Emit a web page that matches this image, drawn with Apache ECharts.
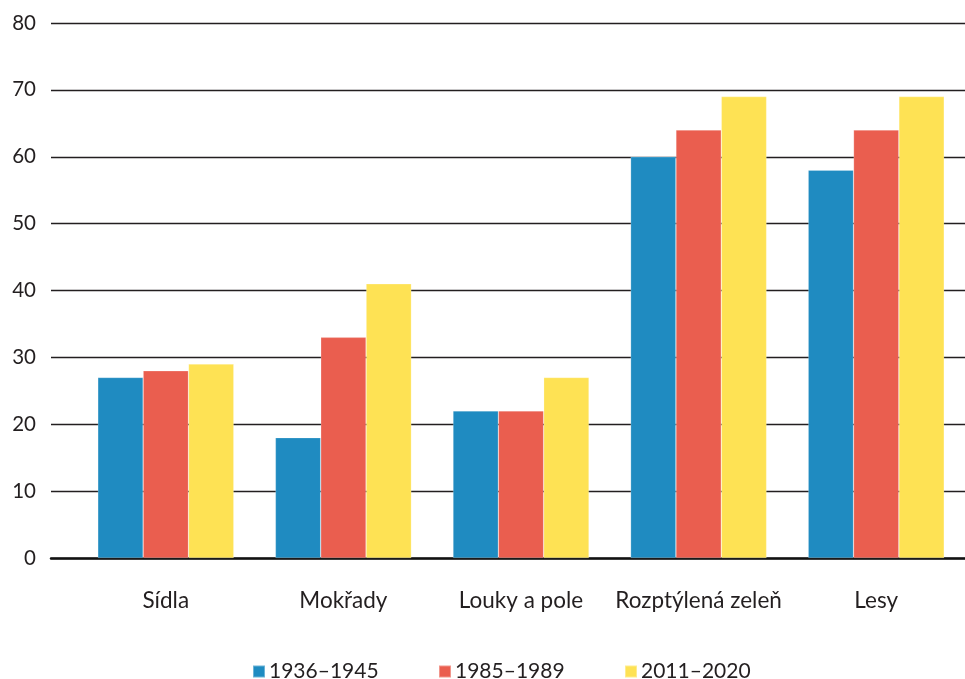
<!DOCTYPE html>
<html>
<head>
<meta charset="utf-8">
<script src="https://cdn.jsdelivr.net/npm/echarts@6/dist/echarts.min.js"></script>
<style>
  html, body { margin: 0; padding: 0; background: #fff; }
  #chart { width: 965px; height: 679px; }
</style>
</head>
<body>
<div id="chart"></div>
<script>
// Land-cover categories along the x axis
const categories = ['Sídla', 'Mokřady', 'Louky a pole', 'Rozptýlená zeleň', 'Lesy'];

// Period names and their values per category
const periods = ['1936–1945', '1985–1989', '2011–2020'];
const values1936 = [27, 18, 22, 60, 58];
const values1985 = [28, 33, 22, 64, 64];
const values2011 = [29, 41, 27, 69, 69];

// Value axis range
const yMin = 0;
const yMax = 80;
const yStep = 10;

const colors = ['#1f8bc1', '#ea5e4f', '#fee254'];
const textColor = '#231f20';
const fontFamily = 'Lato, "Noto Sans", sans-serif';

const seriesValues = [values1936, values1985, values2011];

const chart = echarts.init(document.getElementById('chart'), null, { renderer: 'canvas' });

const legendLefts = [252, 438, 624];

const option = {
  backgroundColor: '#ffffff',
  animation: false,
  textStyle: { fontFamily: fontFamily, color: textColor },
  grid: [
    // grid carrying the value axis and horizontal rules
    { left: 51, right: 0, top: 23, bottom: 121 },
    // grid carrying the category bars
    { left: 77, right: 0, top: 23, bottom: 121 }
  ],
  xAxis: [
    {
      gridIndex: 0, type: 'value', min: 0, max: 1,
      axisLine: { show: true, lineStyle: { color: '#111', width: 2.5 } },
      axisTick: { show: false }, axisLabel: { show: false }, splitLine: { show: false }
    },
    {
      gridIndex: 1, type: 'category', data: categories,
      axisLine: { show: false }, axisTick: { show: false },
      axisLabel: { interval: 0, fontSize: 22.5, color: textColor, margin: 31, fontFamily: fontFamily }
    }
  ],
  yAxis: [
    {
      gridIndex: 0, type: 'value', min: yMin, max: yMax, interval: yStep,
      axisLine: { show: false }, axisTick: { show: false },
      axisLabel: { fontSize: 20.5, color: textColor, margin: 15, fontFamily: fontFamily },
      splitLine: { show: true, lineStyle: { color: '#231f20', width: 1.3 } }
    },
    {
      gridIndex: 1, type: 'value', min: yMin, max: yMax, interval: yStep, show: false
    }
  ],
  legend: periods.map((p, i) => ({
    data: [p],
    left: legendLefts[i],
    top: 661,
    padding: 0,
    itemWidth: 12,
    itemHeight: 12,
    itemGap: 6,
    icon: 'rect',
    textStyle: { fontSize: 21, color: textColor, fontFamily: fontFamily, padding: [0, 0, 0, -1] }
  })),
  series: periods.map((p, i) => ({
    name: p,
    type: 'bar',
    xAxisIndex: 1,
    yAxisIndex: 1,
    data: seriesValues[i],
    barGap: '0%',
    barCategoryGap: '23.4%',
    itemStyle: { color: colors[i], borderColor: 'rgba(255,255,255,0.35)', borderWidth: 0.6 },
    z: 3
  }))
};

chart.setOption(option);
</script>
</body>
</html>
